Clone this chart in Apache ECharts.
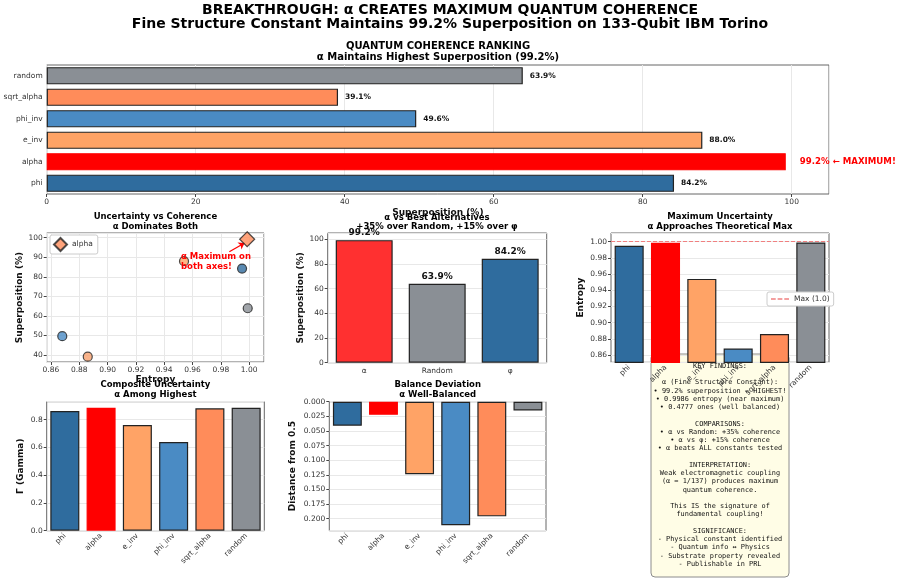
<!DOCTYPE html>
<html>
<head>
<meta charset="utf-8">
<script src="https://cdn.jsdelivr.net/npm/echarts@6/dist/echarts.min.js"></script>
<style>
html, body { margin: 0; padding: 0; background: #fff; }
#chart { width: 900px; height: 581px; }
</style>
</head>
<body>
<div id="chart"></div>
<script>
// data
var constants = ['phi', 'alpha', 'e_inv', 'phi_inv', 'sqrt_alpha', 'random'];
var superposition = [84.2, 99.2, 88.0, 49.6, 39.1, 63.9];
var entropy = [0.995, 0.9986, 0.954, 0.868, 0.886, 0.999];
var gamma = [0.863, 0.886, 0.762, 0.639, 0.882, 0.886];
var balanceDev = [0.041, 0.0223, 0.124, 0.211, 0.196, 0.015];
var colors = ['#2F6C9E', '#FF0000', '#FFA366', '#4A8BC4', '#FF8C5A', '#8A8F95'];
var scatterColors = ['#2F6C9E', '#FF8C5A', '#FFA366', '#4A8BC4', '#F7A06E', '#8A8F95'];
var compareLabels = ['α', 'Random', 'φ'];
var compareValues = [99.2, 63.9, 84.2];
var compareColors = ['#FF3030', '#8A8F95', '#2F6C9E'];
var ALPHA = 1;

var findings = [
    'KEY FINDINGS:',
    '',
    'α (Fine Structure Constant):',
    '• 99.2% superposition ← HIGHEST!',
    '• 0.9986 entropy (near maximum)',
    '• 0.4777 ones (well balanced)',
    '',
    'COMPARISONS:',
    '• α vs Random: +35% coherence',
    '• α vs φ: +15% coherence',
    '• α beats ALL constants tested',
    '',
    'INTERPRETATION:',
    'Weak electromagnetic coupling',
    '(α = 1/137) produces maximum',
    'quantum coherence.',
    '',
    'This IS the signature of',
    'fundamental coupling!',
    '',
    'SIGNIFICANCE:',
    '- Physical constant identified',
    '- Quantum info ↔ Physics',
    '- Substrate property revealed',
    '- Publishable in PRL'
];

var FONT = 'DejaVu Sans';
var chart = echarts.init(document.getElementById('chart'));

function gridBox(l, t, w, h) {
    return { left: l, top: t, width: w, height: h, show: true, borderColor: '#666', borderWidth: 1, backgroundColor: 'transparent' };
}
var tickLabel = { fontSize: 7.5, color: '#333', fontFamily: FONT };
var splitOn = { show: true, lineStyle: { color: '#e8e8e8', width: 1 } };
var nameStyle = { fontSize: 9, fontWeight: 'bold', color: '#111', fontFamily: FONT };

function catAxis(idx, rotate) {
    return {
        type: 'category', gridIndex: idx, data: constants,
        axisLine: { show: false, onZero: false }, axisTick: { alignWithLabel: true, length: 3, lineStyle: { color: '#444' } },
        axisLabel: Object.assign({ rotate: rotate || 0, margin: 4 }, tickLabel),
        splitLine: { show: false }
    };
}
function valAxis(idx, o) {
    return Object.assign({
        type: 'value', gridIndex: idx,
        axisLine: { show: false, onZero: false }, axisTick: { show: true, length: 3, lineStyle: { color: '#444' } },
        axisLabel: Object.assign({ showMaxLabel: false, margin: 4 }, tickLabel),
        splitLine: splitOn, nameTextStyle: nameStyle, nameLocation: 'middle'
    }, o);
}
function barItems(values, cols, alphaNoEdge) {
    return values.map(function (v, i) {
        var edge = (alphaNoEdge && i === ALPHA) ? cols[i] : '#222';
        return { value: v, itemStyle: { color: cols[i], borderColor: edge, borderWidth: 1.2 } };
    });
}
function title(x, y, text, size) {
    return {
        type: 'text', x: x, y: y, z: 50,
        style: { text: text, textAlign: 'center', textVerticalAlign: 'middle', font: 'bold ' + size + 'px "' + FONT + '"', fill: '#000' }
    };
}

var topItems = barItems(superposition, colors, true);
topItems[ALPHA].label = { color: '#FF0000', fontSize: 8.6, distance: 14,
    formatter: function (p) { return p.value.toFixed(1) + '% ← MAXIMUM!'; } };

var otherPts = [];
constants.forEach(function (c, i) {
    if (i !== ALPHA) otherPts.push({ name: c, value: [entropy[i], superposition[i]],
        itemStyle: { color: scatterColors[i], borderColor: '#222', borderWidth: 1.2 } });
});

var dashIcon = 'path://M0,0 L5,0 L5,1.4 L0,1.4 Z M7,0 L12,0 L12,1.4 L7,1.4 Z M14,0 L19,0 L19,1.4 L14,1.4 Z';

var option = {
    animation: false,
    textStyle: { fontFamily: FONT },
    grid: [
        gridBox(46.7, 65, 782.3, 129),
        gridBox(46.7, 233, 217.3, 129),
        gridBox(327.7, 233, 219, 129.7),
        gridBox(611, 233, 218, 129.3),
        gridBox(46.7, 401.7, 217.6, 129),
        gridBox(329.3, 401.7, 216.7, 129)
    ],
    xAxis: [
        valAxis(0, { min: 0, max: 105, interval: 20, name: 'Superposition (%)', nameGap: 14 }),
        valAxis(1, { min: 0.857, max: 1.0105, splitNumber: 7, name: 'Entropy', nameGap: 13,
            axisLabel: Object.assign({ showMinLabel: false, showMaxLabel: false, margin: 4,
                formatter: function (v) { return v.toFixed(2); } }, tickLabel) }),
        (function () { var a = catAxis(2); a.data = compareLabels; return a; })(),
        catAxis(3, 45),
        catAxis(4, 45),
        catAxis(5, 45)
    ],
    yAxis: [
        (function () { var a = catAxis(0); a.splitLine = { show: false }; return a; })(),
        valAxis(1, { min: 36.4, max: 102.4, splitNumber: 7, name: 'Superposition (%)', nameGap: 22,
            axisLabel: Object.assign({ showMinLabel: false, showMaxLabel: false, margin: 4 }, tickLabel) }),
        valAxis(2, { min: 0, max: 105, interval: 20, name: 'Superposition (%)', nameGap: 22 }),
        valAxis(3, { min: 0.851, max: 1.0107, splitNumber: 8, name: 'Entropy', nameGap: 26,
            axisLabel: Object.assign({ showMinLabel: false, showMaxLabel: false, margin: 4,
                formatter: function (v) { return v.toFixed(2); } }, tickLabel) }),
        valAxis(4, { min: 0, max: 0.93, interval: 0.2, name: 'Γ (Gamma)', nameGap: 22,
            axisLabel: Object.assign({ showMaxLabel: false, margin: 4,
                formatter: function (v) { return v.toFixed(1); } }, tickLabel) }),
        valAxis(5, { min: 0, max: 0.2205, interval: 0.025, inverse: true, name: 'Distance from 0.5', nameGap: 32,
            axisLabel: Object.assign({ showMaxLabel: false, margin: 4,
                formatter: function (v) { return v.toFixed(3); } }, tickLabel) })
    ],
    legend: [
        { data: ['alpha'], left: 50, top: 235, orient: 'vertical', itemWidth: 13, itemHeight: 13, itemGap: 2,
          padding: [2, 5, 2, 3], backgroundColor: '#fff', borderColor: '#ccc', borderWidth: 1, borderRadius: 2,
          textStyle: { fontSize: 7.5, color: '#333' } },
        { data: [{ name: 'Max (1.0)', icon: dashIcon }], left: 767, top: 292, itemWidth: 18, itemHeight: 1.4,
          padding: [3, 4, 3, 4], backgroundColor: '#fff', borderColor: '#ccc', borderWidth: 1, borderRadius: 2,
          textStyle: { fontSize: 7.5, color: '#333' } }
    ],
    series: [
        { type: 'bar', xAxisIndex: 0, yAxisIndex: 0, barCategoryGap: '20%', data: topItems,
          label: { show: true, position: 'right', distance: 7, fontSize: 7.5, fontWeight: 'bold', color: '#111',
                   formatter: function (p) { return p.value.toFixed(1) + '%'; } } },
        { type: 'scatter', name: 'points', xAxisIndex: 1, yAxisIndex: 1, symbolSize: 9, data: otherPts },
        { type: 'scatter', name: 'alpha', xAxisIndex: 1, yAxisIndex: 1, symbol: 'diamond', symbolSize: 15, z: 5,
          itemStyle: { color: '#FF8C5A', borderColor: '#222', borderWidth: 1.2 },
          data: [[entropy[ALPHA], superposition[ALPHA]]],
          markLine: { silent: true, symbol: ['none', 'arrow'], symbolSize: 6, label: { show: false },
                      lineStyle: { color: '#FF0000', width: 1.2, type: 'solid' },
                      data: [[{ coord: [0.986, 92.8] }, { coord: [0.9968, 97.3] }]] },
          markPoint: { silent: true, symbol: 'rect', symbolSize: 1, itemStyle: { color: 'transparent' },
                       data: [{ coord: [0.9515, 87.6],
                                label: { show: true, position: 'right', distance: 0, align: 'left', color: '#FF0000',
                                         fontSize: 8.5, fontWeight: 'bold', lineHeight: 10,
                                         formatter: 'α Maximum on\nboth axes!' } }] } },
        { type: 'bar', xAxisIndex: 2, yAxisIndex: 2, barCategoryGap: '22%',
          data: barItems(compareValues, compareColors, false),
          label: { show: true, position: 'top', distance: 3, fontSize: 9, fontWeight: 'bold', color: '#111',
                   formatter: function (p) { return p.value.toFixed(1) + '%'; } } },
        { type: 'bar', xAxisIndex: 3, yAxisIndex: 3, barCategoryGap: '20%',
          data: barItems(entropy, colors, true),
          markLine: { silent: true, symbol: 'none', label: { show: false },
                      lineStyle: { color: '#F08080', width: 1, type: 'dashed' },
                      data: [{ yAxis: 1.0 }] } },
        { type: 'line', name: 'Max (1.0)', xAxisIndex: 3, yAxisIndex: 3, data: [], symbol: 'none',
          itemStyle: { color: '#F08080' }, lineStyle: { color: '#F08080', width: 1, type: 'dashed' } },
        { type: 'bar', xAxisIndex: 4, yAxisIndex: 4, barCategoryGap: '20%', data: barItems(gamma, colors, true) },
        { type: 'bar', xAxisIndex: 5, yAxisIndex: 5, barCategoryGap: '20%', data: barItems(balanceDev, colors, true) }
    ],
    graphic: [
        title(450, 10.5, 'BREAKTHROUGH: α CREATES MAXIMUM QUANTUM COHERENCE', 14),
        title(450, 24.5, 'Fine Structure Constant Maintains 99.2% Superposition on 133-Qubit IBM Torino', 14),
        title(438, 46.5, 'QUANTUM COHERENCE RANKING', 10),
        title(438, 57.5, 'α Maintains Highest Superposition (99.2%)', 10),
        title(155.4, 217, 'Uncertainty vs Coherence', 8.5),
        title(155.4, 226.5, 'α Dominates Both', 8.5),
        title(437, 218, 'α vs Best Alternatives', 8.5),
        title(437, 226.5, '+35% over Random, +15% over φ', 8.5),
        title(720, 217, 'Maximum Uncertainty', 8.5),
        title(720, 226.5, 'α Approaches Theoretical Max', 8.5),
        title(155.4, 385, 'Composite Uncertainty', 8.5),
        title(155.4, 394.5, 'α Among Highest', 8.5),
        title(437.7, 385, 'Balance Deviation', 8.5),
        title(437.7, 394.5, 'α Well-Balanced', 8.5),
        {
            type: 'group', z: 100,
            children: [
                { type: 'rect', shape: { x: 651, y: 354, width: 138, height: 223, r: 4 },
                  style: { fill: 'rgba(255,253,226,0.88)', stroke: '#8c8c8c', lineWidth: 1 } },
                { type: 'text', x: 720, y: 362,
                  style: { text: findings.join('\n'), textAlign: 'center', textVerticalAlign: 'top',
                           font: '6.9px "DejaVu Sans Mono"', lineHeight: 8.25, fill: '#111' } }
            ]
        }
    ]
};

chart.setOption(option);
</script>
</body>
</html>
